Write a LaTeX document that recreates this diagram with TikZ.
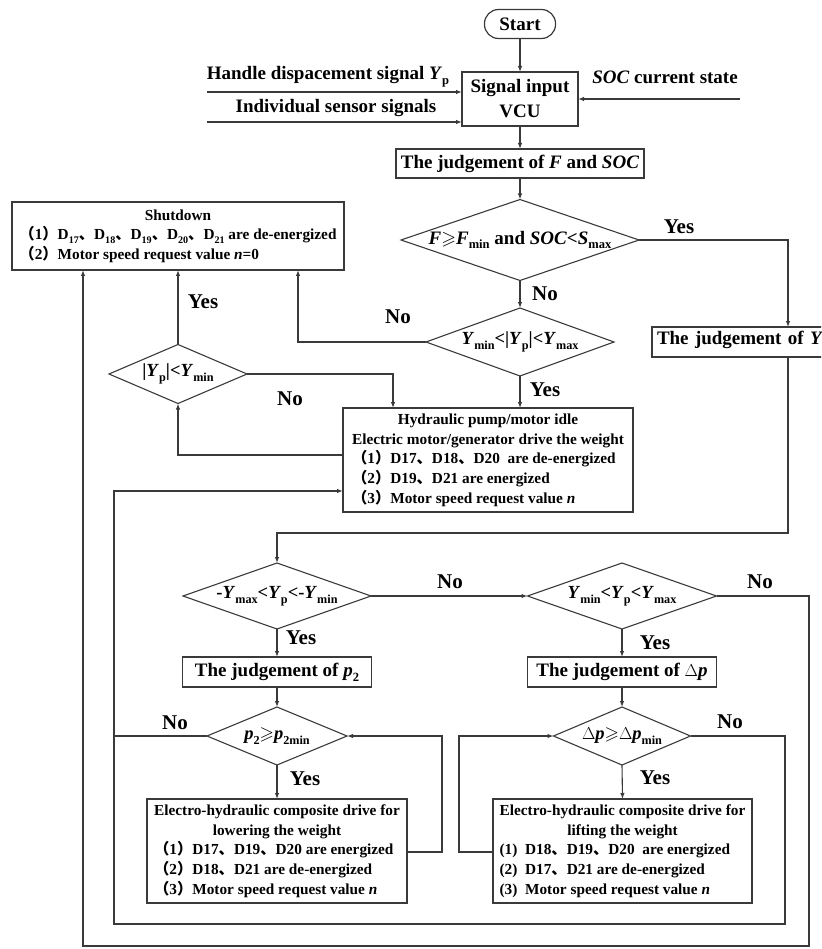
\documentclass[tikz,border=0pt]{standalone}
\usepackage{fontspec}
\usepackage{amssymb}
\setmainfont{Liberation Serif}
\newfontfamily\cjk{Noto Sans CJK SC}
\usetikzlibrary{arrows.meta,calc}
\newcommand\sbs[1]{\raisebox{-0.25em}{\scalebox{0.66}{#1}}}
\newcommand\vr[1]{\textit{#1}}
\newcommand\lpn[1]{{\cjk （}#1{\cjk ）}}
\newcommand\dn{{\cjk 、}}
\newcommand\ctr[1]{\multicolumn{1}{@{}c@{}}{#1}}
\newcommand\geqs{$\geqslant$}
\definecolor{lc}{HTML}{3A3A3A}
\begin{document}
\begin{tikzpicture}[x=1pt,y=-1pt,
  box/.style={draw=lc, line width=1.2pt, rectangle, inner sep=0pt, outer sep=0pt, text=black},
  dnode/.style={rectangle, draw=none, inner sep=0pt, outer sep=0pt, font=\bfseries\fontsize{18.5}{20}\selectfont},
  big/.style={font=\bfseries\fontsize{19}{25}\selectfont},
  small/.style={font=\bfseries\fontsize{15.3}{19.7}\selectfont},
  lbl/.style={inner sep=0pt, font=\bfseries\fontsize{21}{21}\selectfont},
  txt/.style={inner sep=0pt, font=\bfseries\fontsize{19}{22}\selectfont},
  arr/.style={draw=lc, line width=1.1pt, -{Latex[length=6pt,width=4.5pt]}},
  ln/.style={draw=lc, line width=1.1pt}]
\useasboundingbox (0,0) rectangle (821,949);
\clip (0,0) rectangle (821,949);

% ---------- top part
\node[box, rounded corners=14pt, minimum width=71pt, minimum height=29pt, big] (start) at (520,24) {Start};
\node[box, minimum width=116pt, minimum height=54pt, big, align=center] (vcu) at (520,99) {Signal input\\VCU};
\node[box, minimum width=248pt, minimum height=29pt, big] (fsoc) at (520,163.5) {The judgement of \vr{F} and \vr{SOC}};

\coordinate (in1) at (207,92);
\coordinate (in2) at (207,122);
\coordinate (in3) at (740,99);
\node[txt] (t1) at (328,77) {Handle dispacement signal \vr{Y}\sbs{p}};
\node[txt] (t2) at (336,108) {Individual sensor signals};
\node[txt] (t3) at (665,77) {\vr{SOC} current state};

% ---------- decisions
\node[dnode, minimum width=238pt, minimum height=81pt, font=\bfseries\fontsize{19}{20}\selectfont] (d1) at (520,240) {\vr{F}\geqs\vr{F}\sbs{min} and \vr{SOC}<\vr{S}\sbs{max}};
\node[dnode, minimum width=188pt, minimum height=68pt] (d2) at (520,342) {\vr{Y}\sbs{min}<|\vr{Y}\sbs{p}|<\vr{Y}\sbs{max}};
\node[dnode, minimum width=138pt, minimum height=59pt] (d3) at (178,374) {|\vr{Y}\sbs{p}|<\vr{Y}\sbs{min}};
\node[dnode, minimum width=188pt, minimum height=66pt] (d4) at (277,596) {-\vr{Y}\sbs{max}<\vr{Y}\sbs{p}<-\vr{Y}\sbs{min}};
\node[dnode, minimum width=189pt, minimum height=66pt] (d5) at (622,596) {\vr{Y}\sbs{min}<\vr{Y}\sbs{p}<\vr{Y}\sbs{max}};
\node[dnode, minimum width=140pt, minimum height=58pt] (d6) at (277,736) {\vr{p}\sbs{2}\geqs\vr{p}\sbs{2min}};
\node[dnode, minimum width=137pt, minimum height=58pt] (d7) at (622,736) {$\Delta$\vr{p}\geqs$\Delta$\vr{p}\sbs{min}};
\foreach \d in {d1,d2,d3,d4,d5,d6,d7}
  \draw[ln, line join=miter] (\d.north) -- (\d.east) -- (\d.south) -- (\d.west) -- cycle;

% ---------- boxes
\node[box, minimum width=332pt, minimum height=68pt, small] (shut) at (178,236) {%
  \begin{tabular}{@{}l@{}}
  \ctr{Shutdown}\\
  \lpn{1}D\sbs{17}\dn D\sbs{18}\dn D\sbs{19}\dn D\sbs{20}\dn D\sbs{21} are de-energized\\
  \lpn{2}Motor speed request value \vr{n}=0
  \end{tabular}};
\node[box, minimum width=290pt, minimum height=104pt, small] (hyd) at (488,460) {%
  \begin{tabular}{@{}l@{}}
  \ctr{Hydraulic pump/motor idle}\\
  \ctr{Electric motor/generator drive the weight}\\
  \lpn{1}D17\dn D18\dn D20~ are de-energized\\
  \lpn{2}D19\dn D21 are energized\\
  \lpn{3}Motor speed request value \vr{n}
  \end{tabular}};
\node[box, minimum width=185pt, minimum height=30pt, big, anchor=west, text width=175pt, align=left, inner xsep=5pt] (jyp) at (652,342) {The judgement of \vr{Y}\sbs{p}};
\node[box, minimum width=189pt, minimum height=30pt, big] (jp2) at (277,672) {The judgement of \vr{p}\sbs{2}};
\node[box, minimum width=189pt, minimum height=30pt, big] (jdp) at (622,672) {The judgement of $\Delta$\vr{p}};
\node[box, minimum width=260pt, minimum height=104pt, small] (low) at (277,851) {%
  \begin{tabular}{@{}l@{}}
  \ctr{Electro-hydraulic composite drive for}\\
  \ctr{lowering the weight}\\
  \lpn{1}D17\dn D19\dn D20 are energized\\
  \lpn{2}D18\dn D21 are de-energized\\
  \lpn{3}Motor speed request value \vr{n}
  \end{tabular}};
\node[box, minimum width=259pt, minimum height=104pt, small] (lift) at (622.5,851) {%
  \begin{tabular}{@{}l@{}}
  \ctr{Electro-hydraulic composite drive for}\\
  \ctr{lifting the weight}\\
  (1)~ D18\dn D19\dn D20~ are energized\\
  (2)~ D17\dn D21 are de-energized\\
  (3)~ Motor speed request value \vr{n}
  \end{tabular}};

% ---------- helper coordinates
\coordinate (yx) at (788,0);
\coordinate (r1) at (788,533);
\coordinate (hx) at (393,0);
\coordinate (sx) at (298,0);
\coordinate (o1) at (809,946);
\coordinate (o2) at (83,946);
\coordinate (i2) at (785,924);
\coordinate (i1) at (114,924);
\coordinate (lx) at (442,0);
\coordinate (fx) at (459,0);

% ---------- connectors
\draw[arr] (start) -- (vcu);
\draw[arr] (in1) -- (in1 -| vcu.west);
\draw[arr] (in2) -- (in2 -| vcu.west);
\draw[arr] (in3) -- (in3 -| vcu.east);
\draw[arr] (vcu) -- (fsoc);
\draw[arr] (fsoc.south) -- (d1.north);
\draw[arr] (d1.east) -| (yx |- jyp.north);
\draw[arr] (d1.south) -- (d2.north);
\draw[arr] (d2.west) -| (sx |- shut.south);
\draw[arr] (d2.south) -- (d2.south |- hyd.north);
\draw[arr] ($(hyd.west)+(0,-5)$) -| (d3.south);
\draw[arr] (d3.north) -- (d3.north |- shut.south);
\draw[arr] (d3.east) -| (hx |- hyd.north);
\draw[arr] (yx |- jyp.south) -- (r1) -| (d4.north);
\draw[arr] (d4.east) -- (d5.west);
\draw[arr] (d5.east) -| (o1) -- (o2) -- (o2 |- shut.south);
\draw[arr] (d4.south) -- (jp2.north);
\draw[arr] (jp2.south) -- (d6.north);
\draw[arr] (d6.south) -- (low.north);
\draw[ln] (d6.west) -- (i1 |- d6.west);
\draw[arr] (d7.east) -| (i2) -- (i1) |- ($(hyd.west)+(0,31)$);
\draw[arr] ($(low.east)+(0,1)$) -| (lx |- d6.east) -- (d6.east);
\draw[arr] (d5.south) -- (jdp.north);
\draw[arr] (jdp.south) -- (d7.north);
\draw[arr] (d7.south) -- (lift.north);
\draw[arr] ($(lift.west)+(0,1)$) -| (fx |- d7.west) -- (d7.west);

% ---------- labels
\node[lbl] (y1) at (679,227) {Yes};
\node[lbl] (n1) at (545,294) {No};
\node[lbl] (n2) at (398,317) {No};
\node[lbl] (y2) at (545,390) {Yes};
\node[lbl] (y3) at (203,302) {Yes};
\node[lbl] (n3) at (290,399) {No};
\node[lbl] (n4) at (450,582) {No};
\node[lbl] (n5) at (760,582) {No};
\node[lbl] (y4) at (301,638) {Yes};
\node[lbl] (y5) at (655,643) {Yes};
\node[lbl] (n6) at (175,723) {No};
\node[lbl] (y6) at (305,779) {Yes};
\node[lbl] (n7) at (730,722) {No};
\node[lbl] (y7) at (655,778) {Yes};
\end{tikzpicture}
\end{document}
